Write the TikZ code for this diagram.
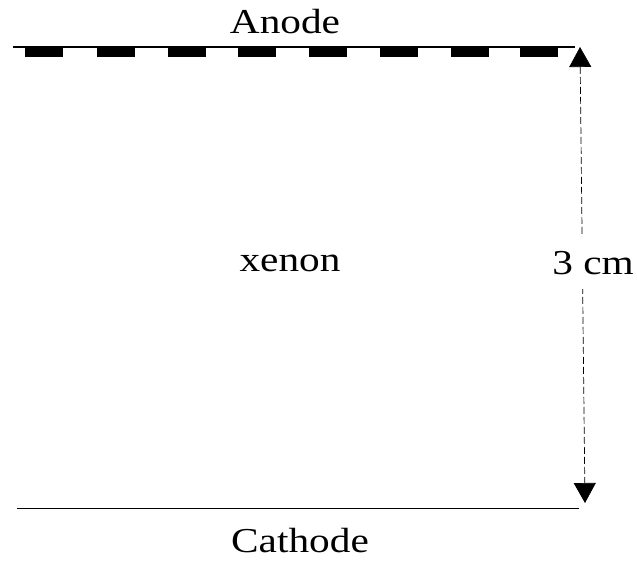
\documentclass[tikz,border=0pt]{standalone}
\usepackage{fontspec}
\setmainfont{Liberation Serif}
\usetikzlibrary{arrows.meta}
\newcommand\widetxt[1]{\scalebox{1.18}[1]{#1}}
\begin{document}
\begin{tikzpicture}[x=1pt,y=-1pt,
  lbl/.style={font=\fontsize{35}{40}\selectfont, inner sep=0pt},
  plate/.style={line width=1.6pt},
  gridbar/.style={fill=black},
  dim/.style={dashed, dash pattern=on 7pt off 3pt, line width=0.7pt,
    {Triangle[width=22pt,length=20pt]}-{Triangle[width=22pt,length=20pt]}}]
\useasboundingbox (0,0) rectangle (637,563);
% anode
\coordinate (a1) at (13,47);
\coordinate (a2) at (575,47);
\draw[plate] (a1) -- (a2);
\foreach \x in {25,97,168,238,309,380,451,520}{
  \fill[gridbar] (\x,47) rectangle ++(38,10);
}
% cathode
\coordinate (c1) at (17,508);
\coordinate (c2) at (579,508);
\draw[line width=1pt] (c1) -- (c2);
% dimension arrow
\coordinate (top) at (580,47);
\coordinate (bot) at (585,503);
\draw[dim] (top) -- (bot);
% labels
\node[lbl] (anode) at (285,22) {\widetxt{Anode}};
\node[lbl] (xenon) at (290,263) {\widetxt{xenon}};
\node[lbl, fill=white, inner xsep=1pt, inner ysep=14pt] (dist) at (593,263) {\widetxt{3 cm}};
\node[lbl] (cathode) at (300,541) {\widetxt{Cathode}};
\end{tikzpicture}
\end{document}
